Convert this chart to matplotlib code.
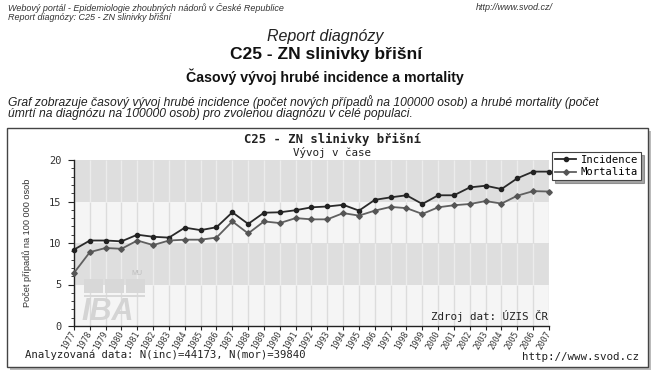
import matplotlib
matplotlib.use("Agg")
import matplotlib.pyplot as plt
from matplotlib.patches import Rectangle
import numpy as np

# ---- data ----
years = list(range(1977, 2008))
incidence = [9.2, 10.3, 10.3, 10.2, 11.0, 10.75, 10.65, 11.85, 11.55, 11.9,
             13.7, 12.3, 13.65, 13.7, 13.95, 14.3, 14.4, 14.6, 13.9, 15.2,
             15.5, 15.75, 14.7, 15.75, 15.75, 16.7, 16.9, 16.5, 17.8, 18.6, 18.6]
mortalita = [6.4, 8.9, 9.4, 9.3, 10.3, 9.75, 10.3, 10.4, 10.4, 10.65,
             12.6, 11.15, 12.6, 12.4, 13.0, 12.85, 12.85, 13.6, 13.3, 13.9,
             14.35, 14.2, 13.5, 14.3, 14.55, 14.7, 15.05, 14.75, 15.7, 16.25, 16.2]
series_names = ["Incidence", "Mortalita"]
y_ticks = [0, 5, 10, 15, 20]

W, H = 657, 374
fig = plt.figure(figsize=(W / 100, H / 100), dpi=100)
fig.patch.set_facecolor("white")

def fx(x):
    return x / W

def fy(y):
    return 1 - y / H

sans = "Liberation Sans"
mono = "DejaVu Sans Mono"

# ---- page header texts ----
fig.text(fx(8), fy(8), "Webový portál - Epidemiologie zhoubných nádorů v České Republice",
         family=sans, style="italic", fontsize=6.5, color="#333333", va="center")
fig.text(fx(476), fy(8), "http://www.svod.cz/", family=sans, style="italic",
         fontsize=6.5, color="#333333", va="center")
fig.text(fx(8), fy(18), "Report diagnózy: C25 - ZN slinivky břišní", family=sans,
         style="italic", fontsize=6.5, color="#333333", va="center")
fig.text(fx(325), fy(37), "Report diagnózy", family=sans, style="italic",
         fontsize=11.5, color="#222222", ha="center", va="center")
fig.text(fx(326), fy(55), "C25 - ZN slinivky břišní", family=sans, weight="bold",
         fontsize=12.5, color="#111111", ha="center", va="center")
fig.text(fx(325), fy(77), "Časový vývoj hrubé incidence a mortality", family=sans,
         weight="bold", fontsize=10.2, color="#111111", ha="center", va="center")
fig.text(fx(8), fy(102),
         "Graf zobrazuje časový vývoj hrubé incidence (počet nových případů na 100000 osob) a hrubé mortality (počet",
         family=sans, style="italic", fontsize=8.7, color="#222222", va="center")
fig.text(fx(8), fy(114),
         "úmrtí na diagnózu na 100000 osob) pro zvolenou diagnózu v celé populaci.",
         family=sans, style="italic", fontsize=8.7, color="#222222", va="center")

# ---- chart frame ----
fig.patches.append(Rectangle((fx(10), fy(370)), fx(641), (367 - 128) / H,
                             transform=fig.transFigure, facecolor="#bbbbbb",
                             edgecolor="none", zorder=0))
fig.patches.append(Rectangle((fx(7), fy(367)), fx(641), (367 - 128) / H,
                             transform=fig.transFigure, facecolor="white",
                             edgecolor="#444444", lw=1.0, zorder=0.5))

fig.text(fx(332), fy(139), "C25 - ZN slinivky břišní", family=mono, weight="bold",
         fontsize=8.8, color="#222222", ha="center", va="center")
fig.text(fx(332), fy(152), "Vývoj v čase", family=mono, fontsize=7.8,
         color="#222222", ha="center", va="center")

# ---- axes ----
ax = fig.add_axes([fx(74), fy(326), (549 - 74) / W, (326 - 160) / H])
ax.set_zorder(2)
ax.set_xlim(years[0], years[-1])
ax.set_ylim(0, 20)
ax.set_facecolor("#f5f5f5")

band_cols = ["#f5f5f5", "#dedede", "#f5f5f5", "#dedede"]
grid_cols = ["#dcdcdc", "#ececec", "#dcdcdc", "#ececec"]
for i, (c, gc) in enumerate(zip(band_cols, grid_cols)):
    lo, hi = y_ticks[i], y_ticks[i + 1]
    ax.axhspan(lo, hi, color=c, zorder=0, lw=0)
    ax.vlines(years, lo, hi, colors=gc, lw=1.0, zorder=0.5)

# logo watermark
ax.text(0.015, 0.035, "IBA", transform=ax.transAxes, family=sans, weight="bold",
        style="italic", fontsize=22, color="#d4d4d4", zorder=1)
for k in range(3):
    ax.add_patch(Rectangle((0.02 + k * 0.045, 0.2), 0.04, 0.085,
                           transform=ax.transAxes, facecolor="#d8d8d8",
                           edgecolor="none", zorder=1))
ax.add_patch(Rectangle((0.02, 0.175), 0.13, 0.014, transform=ax.transAxes,
                       facecolor="#d8d8d8", edgecolor="none", zorder=1))
ax.text(0.12, 0.31, "MU", transform=ax.transAxes, family=sans, fontsize=5,
        color="#bdbdbd", zorder=1)

ax.plot(years, incidence, color="#2a2a2a", lw=1.3, marker="o", ms=3.0,
        mfc="#222222", mec="#222222", label=series_names[0], zorder=3,
        clip_on=False)
ax.plot(years, mortalita, color="#606060", lw=1.3, marker="D", ms=2.8,
        mfc="#555555", mec="#555555", label=series_names[1], zorder=3,
        clip_on=False)

ax.text(0.998, 0.025, "Zdroj dat: ÚZIS ČR", transform=ax.transAxes, family=mono,
        fontsize=7.8, color="#222222", ha="right", va="bottom", zorder=4)

for s in ["top", "right"]:
    ax.spines[s].set_visible(False)
ax.spines["left"].set_color("#222222")
ax.spines["bottom"].set_color("#222222")
ax.spines["left"].set_linewidth(1.0)
ax.spines["bottom"].set_linewidth(1.0)

ax.set_yticks(y_ticks)
ax.set_yticklabels([str(t) for t in y_ticks], family=mono, fontsize=7.5, color="#333333")
ax.set_yticks(np.arange(0, 21, 1), minor=True)
ax.tick_params(axis="y", which="major", length=4, width=0.8, color="#222222", pad=5)
ax.tick_params(axis="y", which="minor", length=2.5, width=0.6, color="#222222")
ax.set_xticks(years)
ax.set_xticklabels([str(y) for y in years], family=mono, fontsize=5.8,
                   rotation=60, ha="right", va="center", rotation_mode="anchor",
                   color="#333333")
ax.tick_params(axis="x", length=3, width=0.8, color="#222222", pad=1)

ax.set_ylabel("Počet případů na 100 000 osob", family=sans, fontsize=6.6,
              color="#333333")
ax.yaxis.set_label_coords((32 - 74) / 475, 0.5)

leg = ax.legend(loc="upper left", bbox_to_anchor=((552 - 74) / 475, (326 - 152) / 166),
                prop={"family": mono, "size": 7.6}, frameon=True, fancybox=False,
                shadow=True, borderpad=0.3, labelspacing=0.2, handlelength=2.0,
                handletextpad=0.4, borderaxespad=0)
leg.get_frame().set_edgecolor("#444444")
leg.get_frame().set_linewidth(0.8)

# ---- bottom texts ----
fig.text(fx(25), fy(355), "Analyzovaná data: N(inc)=44173, N(mor)=39840", family=mono,
         fontsize=7.7, color="#222222", va="center", zorder=5)
fig.text(fx(639), fy(357), "http://www.svod.cz", family=mono, fontsize=7.8,
         color="#222222", ha="right", va="center", zorder=5)

fig.savefig("out.png", dpi=100, facecolor="white")
